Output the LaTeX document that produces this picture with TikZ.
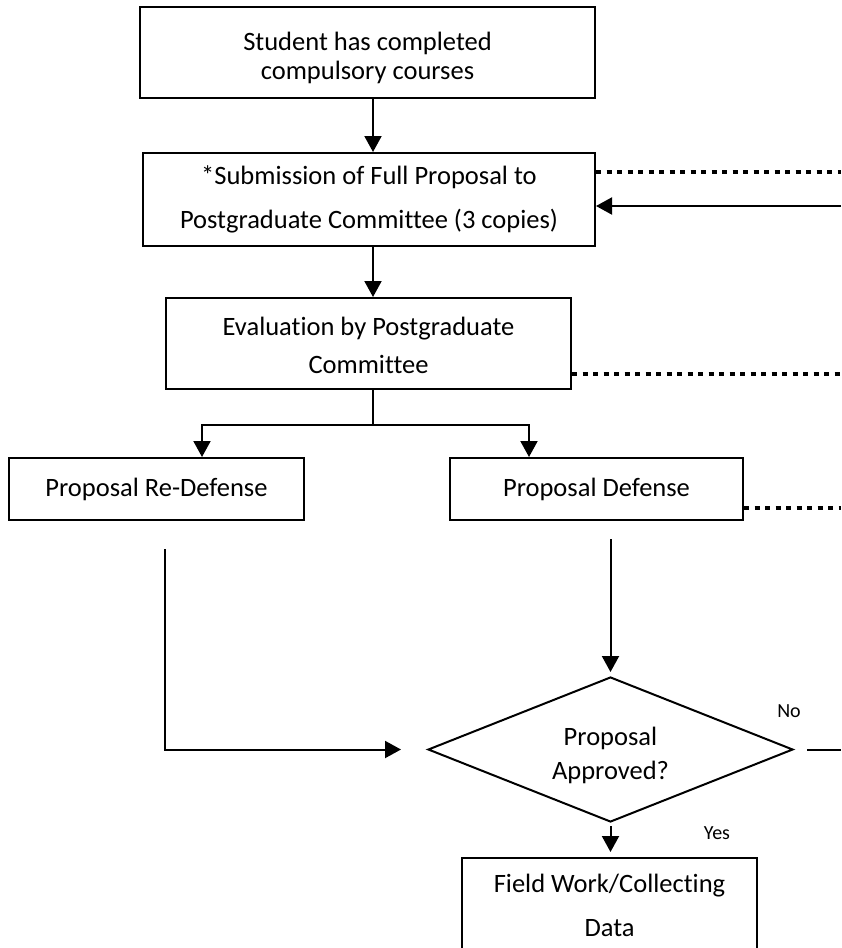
\documentclass[tikz,border=0pt]{standalone}
\usepackage{fontspec}
\setmainfont{Carlito}[Ligatures=NoCommon]
\usetikzlibrary{arrows.meta,shapes.geometric}
\begin{document}
\begin{tikzpicture}[x=1pt,y=-1pt,
  box/.style={draw,line width=2pt,rectangle,inner sep=0pt,align=center},
  arr/.style={line width=2pt,-{Triangle[width=17pt,length=16pt]}},
  plain/.style={line width=2pt},
  dots/.style={line width=4.5pt,dash pattern=on 5pt off 5.5pt},
  lab/.style={font=\fontsize{20}{24}\selectfont,inner sep=0pt}]
\clip (0,0) rectangle (841,948);
\fill[white] (0,0) rectangle (841,948);

\node[box,minimum width=455,minimum height=91,font=\fontsize{26.5}{29}\selectfont] (b1) at (367.5,52.5) {\rule{0pt}{29pt}Student has completed\\compulsory courses};
\node[box,minimum width=452,minimum height=93,font=\fontsize{26.5}{44}\selectfont] (b2) at (369,199.5) {*Submission of Full Proposal to\\Postgraduate Committee (3 copies)};
\node[box,minimum width=405,minimum height=91,font=\fontsize{26.5}{38}\selectfont] (b3) at (368.5,343.5) {\rule{0pt}{22pt}Evaluation by Postgraduate\\Committee};
\node[box,minimum width=295,minimum height=62,font=\fontsize{26.5}{30}\selectfont] (b4) at (156.5,489) {Proposal Re-Defense};
\node[box,minimum width=293,minimum height=62,font=\fontsize{26.5}{30}\selectfont] (b5) at (596.5,489) {Proposal Defense};
\node[draw,diamond,line width=2pt,minimum width=365,minimum height=145,inner sep=0pt,aspect=2.5,align=center,font=\fontsize{26.5}{34}\selectfont] (dia) at (610.5,749.5) {\rule{0pt}{30pt}Proposal\\Approved?};
\node[box,minimum width=295,minimum height=94,font=\fontsize{26.5}{44}\selectfont] (b6) at (609.5,905) {Field Work/Collecting\\Data};

\node[lab] (no) at (789,711) {No};
\node[lab] (yes) at (717,833) {Yes};

\coordinate (ax) at (373,0);
\coordinate (re) at (841,0);
\coordinate (split) at (373,425);

\draw[arr] (b1.south -| ax) -- (b2.north -| ax);
\draw[arr] (b2.south -| ax) -- (b3.north -| ax);
\draw[plain] (b3.south -| ax) -- (split);
\draw[arr] (split) -| ([xshift=45.5]b4.north);
\draw[arr] (split) -| ([xshift=-67.5]b5.north);

\coordinate (s4) at ([xshift=8.5,yshift=-28]b4.south);
\coordinate (t4) at ([xshift=-26]dia.west);
\draw[arr] (s4) |- (t4);

\coordinate (s5) at ([yshift=-18]b5.south);
\coordinate (t5) at ([yshift=4]dia.north);
\draw[arr] (s5 -| t5) -- (t5);

\coordinate (s6) at ([yshift=-3]dia.south);
\coordinate (t6) at ([yshift=5]b6.north);
\draw[arr] (s6) -- (t6 -| s6);

\coordinate (nol) at ([xshift=13]dia.east);
\draw[plain] (nol) -- (nol -| re);

\coordinate (d1) at ([yshift=-20]b2.north east);
\draw[dots] (d1) -- (d1 -| re);
\coordinate (s1) at ([yshift=-6.5]b2.east);
\draw[arr] (s1 -| re) -- (s1);
\coordinate (d2) at ([yshift=-30.5]b3.east);
\draw[dots] (d2) -- (d2 -| re);
\coordinate (d3) at ([yshift=-19]b5.east);
\draw[dots] (d3) -- (d3 -| re);
\end{tikzpicture}
\end{document}
